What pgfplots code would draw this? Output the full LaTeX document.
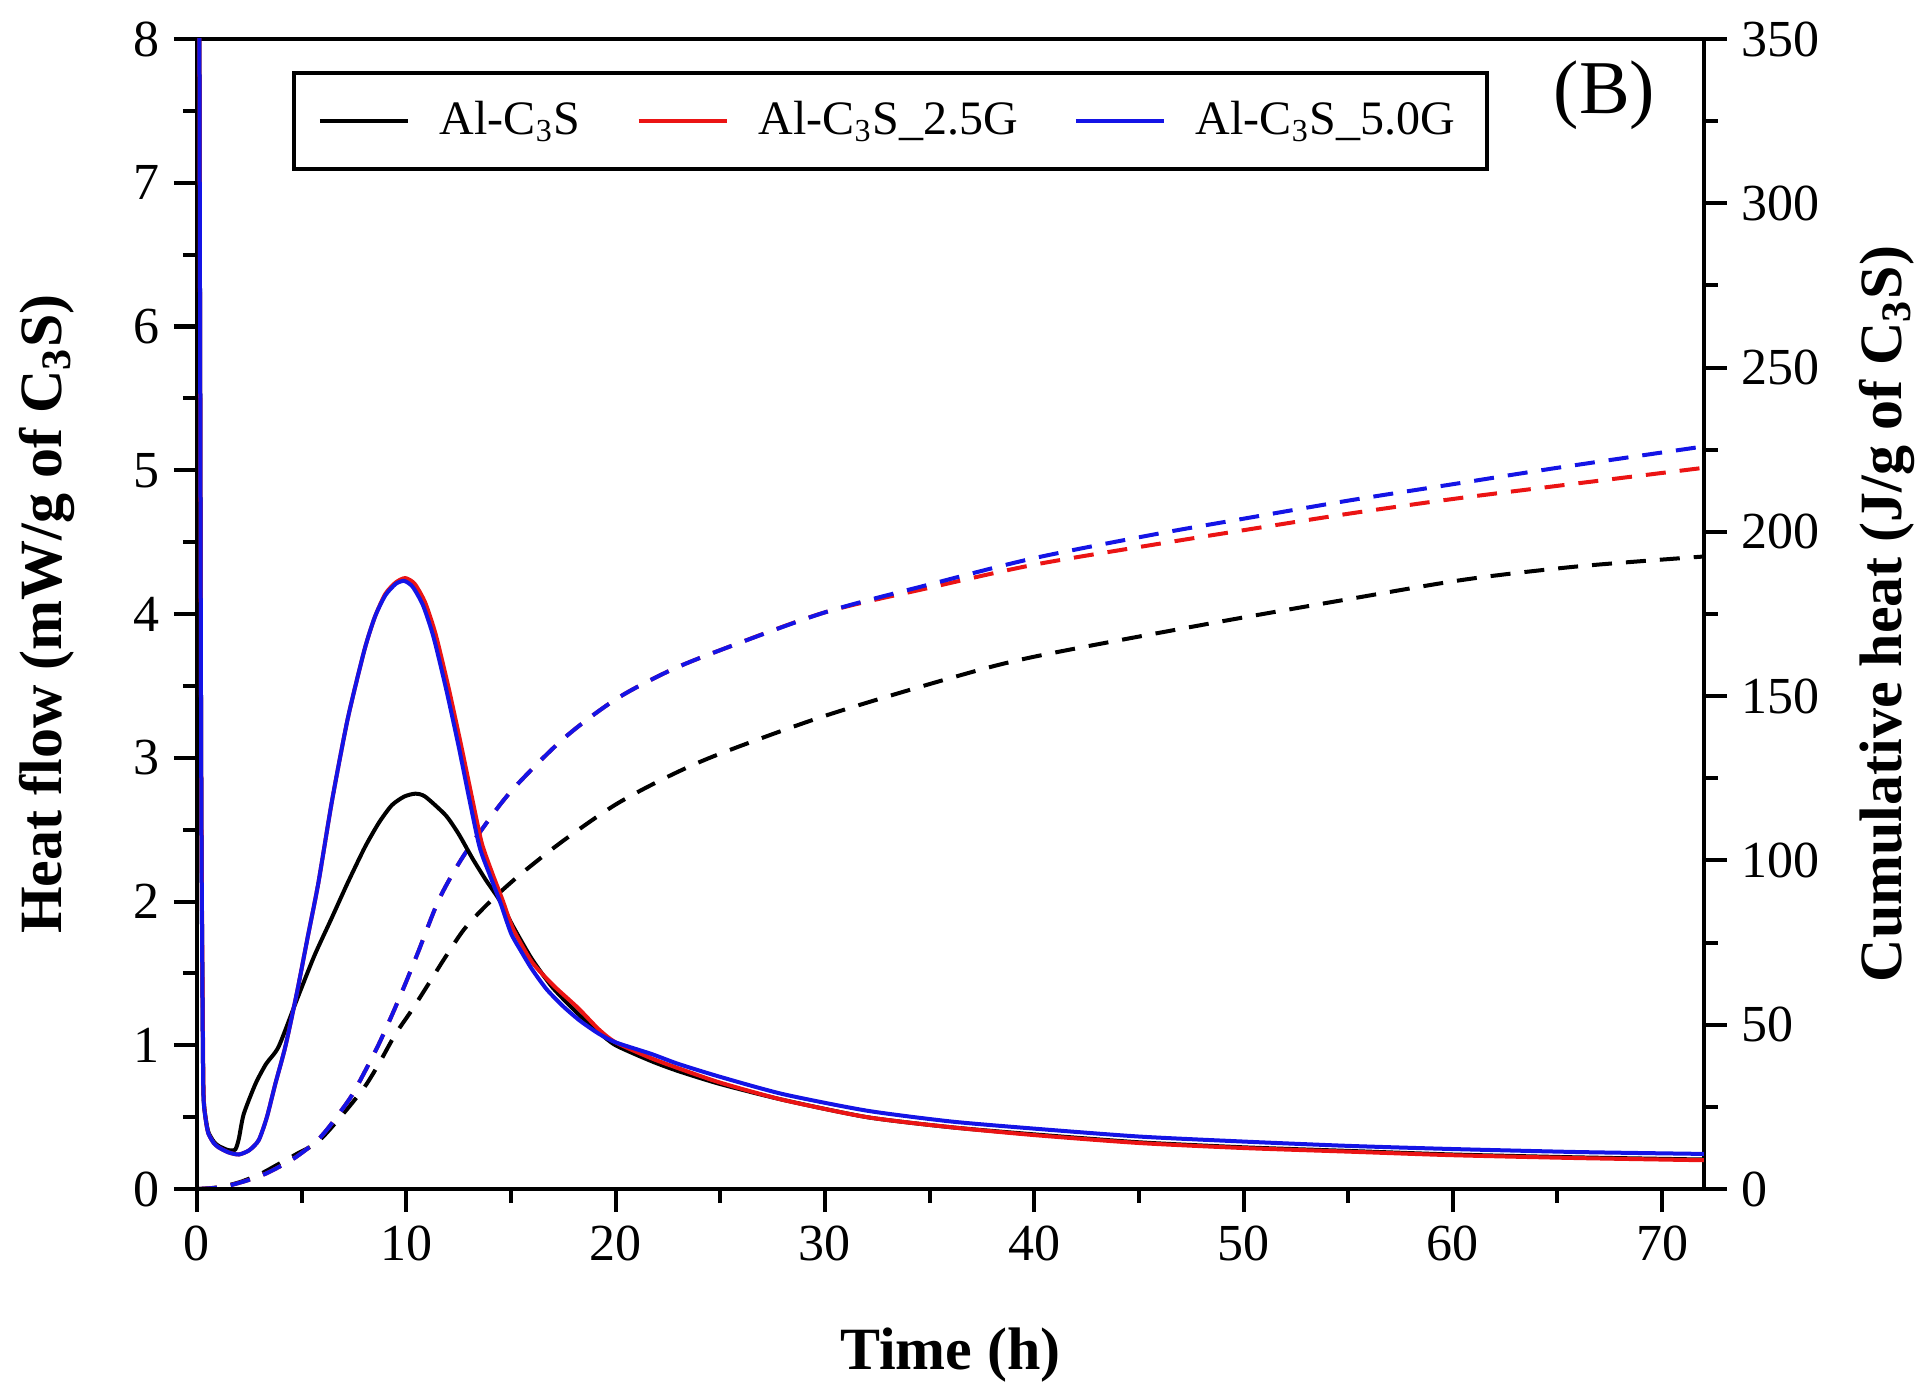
\documentclass[border=0pt]{standalone}
\usepackage{fontspec}
\setmainfont{Liberation Serif}
\usepackage{pgfplots}
\pgfplotsset{compat=1.18}
\definecolor{myblue}{RGB}{20,20,230}
\definecolor{myred}{RGB}{235,20,20}
\begin{document}
\begin{tikzpicture}
\pgfplotsset{
  common/.style={
    scale only axis, width=376.75pt, height=287.5pt,
    xmin=0, xmax=72,
    tick align=outside,
    major tick length=5.75pt, minor tick length=3.5pt,
    every tick/.style={line width=1pt, black},
    axis line style={line width=1.1pt},
    /pgf/number format/assume math mode=true,
    tick label style={font=\fontsize{13}{15}\selectfont},
    label style={font=\fontsize{15}{18}\selectfont\bfseries},
  }
}
% right axis: cumulative heat (dashed)
\begin{axis}[common,
  axis x line=none, axis y line*=right,
  ymin=0, ymax=350, ytick={0,50,...,350}, minor y tick num=1,
  ylabel={Cumulative heat (J/g of C\textsubscript{3}S)},
  ylabel style={at={(axis description cs:1.1214,0.5)}, anchor=center},
]
\addplot[black, line width=1pt, dash pattern=on 5pt off 3.5pt, smooth, tension=0.5] coordinates {
(0,0) (1,0.5) (2,2) (3,4.5) (3.9,7.6) (4.8,10.8) (5.8,14.5) (7.0,23) (8.0,31) (8.68,38) (9.47,47) (10.27,54.5) (11.07,62.5) (11.86,70.5) (12.82,79.5) (14.09,88) (15.5,96) (17.5,106) (20,117) (22.5,125.5) (25,132.5) (30,144) (36,155.5) (40,162) (48.3,172) (55,179.5) (60.6,185.5) (66,189.5) (72,192.5)};
\addplot[myred, line width=1pt, dash pattern=on 5pt off 3.5pt, smooth, tension=0.5] coordinates {
(0,0) (0.8,0.3) (1.5,1.0) (2.4,2.6) (3.26,4.6) (4.0,7) (4.7,9.6) (5.65,14.2) (6.2,18) (6.77,22.8) (7.4,28.5) (8.04,36) (8.68,44) (9.32,53) (9.95,62.4) (10.59,72.5) (11.54,87.8) (12.5,99) (13.45,108) (15,121) (17.5,137) (20,149) (22.5,157.5) (25,164) (30,175.5) (35,183) (40,190) (45.8,196.2) (50,200.5) (55,205.5) (60,210) (65,214) (72,219.5)};
\addplot[myblue, line width=1pt, dash pattern=on 5pt off 3.5pt, smooth, tension=0.5] coordinates {
(0,0) (0.8,0.3) (1.5,1.0) (2.4,2.6) (3.26,4.6) (4.0,7) (4.7,9.6) (5.65,14.2) (6.2,18) (6.77,22.8) (7.4,28.5) (8.04,36) (8.68,44) (9.32,53) (9.95,62.4) (10.59,72.5) (11.54,87.8) (12.5,99) (13.45,108) (15,121) (17.5,137) (20,149) (22.5,157.5) (25,164) (30,175.5) (35,184) (40,192) (45.8,199.3) (50,204) (55,209.5) (60,214.5) (65,219.5) (72,226)};
\end{axis}
% left axis: heat flow (solid)
\begin{axis}[common,
  xtick pos=bottom, ytick pos=left,
  xtick={0,10,...,70}, minor x tick num=1,
  ymin=0, ymax=8, ytick={0,1,...,8}, minor y tick num=1,
  xlabel={Time (h)},
  ylabel={Heat flow (mW/g of C\textsubscript{3}S)},
  xlabel style={at={(axis description cs:0.5,-0.1443)}, anchor=center},
  ylabel style={at={(axis description cs:-0.0995,0.5)}, anchor=center},
  legend columns=3,
  legend image code/.code={\draw[#1] (0pt,0pt) -- (22pt,0pt); \path (27.5pt,0pt);},
  legend style={at={(axis description cs:0.063,0.972)}, anchor=north west,
    draw=black, line width=1pt, fill=white,
    font=\fontsize{12}{14}\selectfont,
    inner xsep=6pt, inner ysep=5pt,
    /tikz/every even column/.append style={column sep=12pt}},
]
\addplot[black, line width=1pt, smooth, tension=0.4] coordinates {
(0.1,9) (0.2,3) (0.28,1.0) (0.32,0.62) (0.45,0.46) (0.56,0.39) (0.8,0.33) (1.03,0.3) (1.5,0.27) (1.83,0.275) (2.0,0.35) (2.23,0.52) (2.79,0.73) (3.3,0.87) (3.9,0.99) (4.78,1.32) (5.6,1.62) (6.42,1.88) (7.2,2.13) (8.03,2.38) (8.7,2.55) (9.31,2.67) (9.9,2.73) (10.43,2.75) (10.9,2.73) (11.88,2.6) (12.5,2.47) (13.16,2.30) (13.8,2.15) (14.45,2.01) (15.09,1.83) (16,1.6) (17,1.4) (18.2,1.22) (19.2,1.09) (20,1.0) (21.7,0.89) (23,0.82) (25,0.73) (28,0.62) (32,0.5) (36,0.43) (40,0.38) (45,0.325) (50,0.29) (55,0.265) (60,0.24) (66,0.22) (72,0.205)};
\addlegendentry{Al-C\textsubscript{3}S}
\addplot[myred, line width=1pt, smooth, tension=0.4] coordinates {
(0.1,9) (0.2,3) (0.29,1.0) (0.33,0.61) (0.45,0.45) (0.56,0.38) (0.8,0.32) (1.03,0.29) (1.5,0.255) (2.0,0.24) (2.5,0.27) (2.95,0.34) (3.34,0.5) (3.74,0.73) (4.22,0.99) (4.78,1.37) (5.3,1.76) (5.8,2.13) (6.45,2.7) (7.2,3.27) (8.0,3.75) (8.5,3.98) (9.0,4.14) (9.5,4.22) (9.95,4.25) (10.4,4.21) (10.9,4.08) (11.4,3.86) (12.0,3.5) (12.6,3.1) (13.1,2.75) (13.6,2.41) (14.1,2.2) (14.6,2.01) (15.1,1.81) (16,1.58) (17,1.42) (18.2,1.26) (19.2,1.11) (20,1.02) (21.7,0.91) (23,0.84) (25,0.74) (28,0.62) (32,0.5) (36,0.43) (40,0.375) (45,0.32) (50,0.285) (55,0.26) (60,0.235) (66,0.215) (72,0.2)};
\addlegendentry{Al-C\textsubscript{3}S\_2.5G}
\addplot[myblue, line width=1pt, smooth, tension=0.4] coordinates {
(0.1,9) (0.2,3) (0.28,1.0) (0.32,0.61) (0.45,0.45) (0.56,0.38) (0.8,0.32) (1.03,0.29) (1.5,0.255) (2.0,0.24) (2.5,0.27) (2.95,0.34) (3.34,0.5) (3.74,0.73) (4.22,0.99) (4.78,1.37) (5.3,1.76) (5.8,2.13) (6.45,2.7) (7.2,3.27) (8.0,3.75) (8.5,3.98) (9.0,4.13) (9.5,4.21) (9.9,4.23) (10.3,4.19) (10.8,4.06) (11.3,3.84) (11.9,3.48) (12.5,3.08) (13.0,2.72) (13.5,2.38) (14,2.18) (14.5,1.99) (15,1.78) (15.5,1.65) (16,1.53) (16.7,1.39) (17.5,1.27) (18.3,1.17) (19.2,1.08) (20,1.02) (21.7,0.94) (23,0.87) (25,0.78) (28,0.66) (32,0.545) (36,0.47) (40,0.42) (45,0.365) (50,0.33) (55,0.3) (60,0.278) (66,0.257) (72,0.244)};
\addlegendentry{Al-C\textsubscript{3}S\_5.0G}
\node[font=\fontsize{19}{22}\selectfont] at (axis description cs:0.934,0.951) {(B)};
\end{axis}
\path (-49.25pt,-50.25pt) rectangle (433.75pt,297.25pt);
\end{tikzpicture}
\end{document}
